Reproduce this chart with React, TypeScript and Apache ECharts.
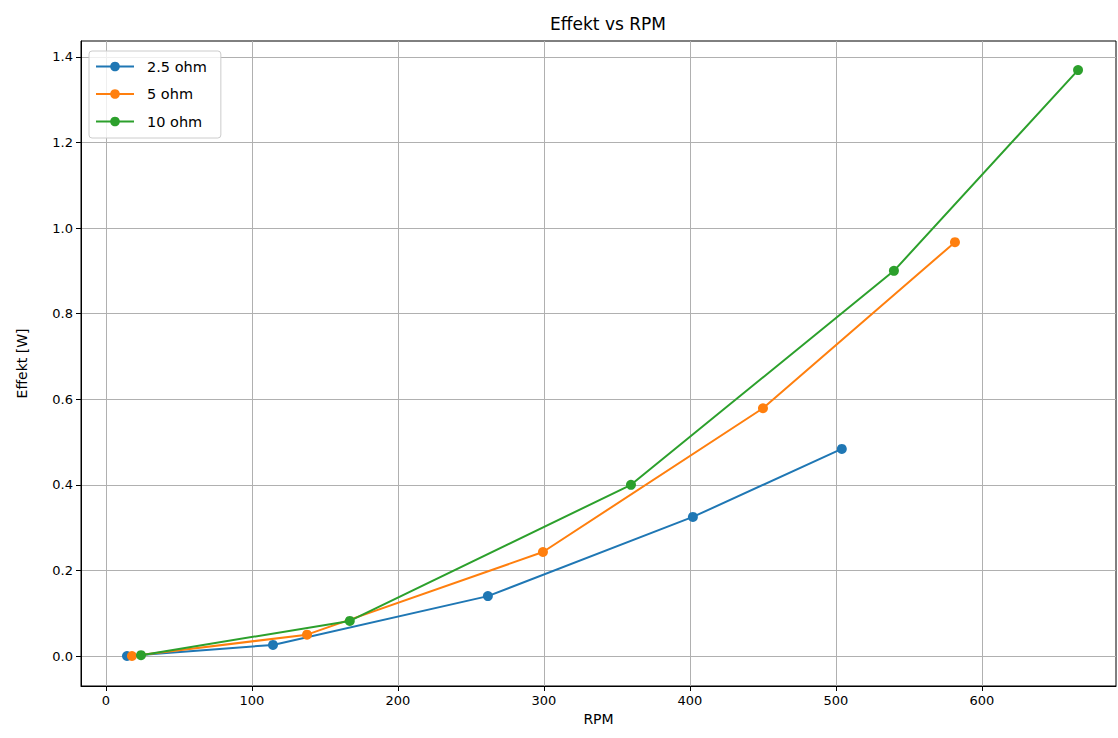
import React, { useEffect, useRef } from "react";
import * as echarts from "echarts";

const seriesNames = ["2.5 ohm", "5 ohm", "10 ohm"];
const colors = ["#1f77b4", "#ff7f0e", "#2ca02c"];
const rpm25 = [14.4, 114.4, 261.6, 402, 504];
const eff25 = [0.0, 0.026, 0.14, 0.325, 0.484];
const rpm5 = [17.8, 137.7, 299.3, 450, 581.5];
const eff5 = [0.0, 0.05, 0.243, 0.579, 0.967];
const rpm10 = [24, 167, 359.6, 539.7, 665.8];
const eff10 = [0.002, 0.082, 0.4, 0.9, 1.369];
const xTicks = [0, 100, 200, 300, 400, 500, 600];
const yTicks = [0, 0.2, 0.4, 0.6, 0.8, 1.0, 1.2, 1.4];

const FONT = "DejaVu Sans";

export default function App() {
  const ref = useRef<HTMLDivElement>(null);
  useEffect(() => {
    document.body.style.margin = "0";
    const chart = echarts.init(ref.current!, null, { renderer: "svg" });
    const xs = [rpm25, rpm5, rpm10];
    const ys = [eff25, eff5, eff10];
    chart.setOption({
      animation: false,
      backgroundColor: "#ffffff",
      title: {
        text: "Effekt vs RPM",
        left: 603,
        top: 10,
        textAlign: "center",
        textStyle: { fontFamily: FONT, fontSize: 17, fontWeight: "normal", color: "#000" },
      },
      legend: {
        orient: "vertical",
        left: 89,
        top: 51,
        itemWidth: 38,
        itemHeight: 12,
        itemGap: 12.5,
        padding: [8, 14, 9, 6],
        backgroundColor: "rgba(255,255,255,0.8)",
        borderColor: "#cccccc",
        borderWidth: 1,
        borderRadius: 3,
        textStyle: { fontFamily: FONT, fontSize: 14.5, color: "#000", padding: [0, 0, 0, 8] },
        data: seriesNames,
      },
      grid: {
        left: 81,
        right: 2,
        top: 41,
        bottom: 52,
        show: true,
        borderColor: "#000",
        borderWidth: 1,
        backgroundColor: "transparent",
      },
      xAxis: {
        type: "value",
        min: -17.1,
        max: 691.8,
        name: "RPM",
        nameLocation: "middle",
        nameGap: 26,
        nameTextStyle: { fontFamily: FONT, fontSize: 14, color: "#000" },
        axisLine: { show: true, onZero: false, lineStyle: { color: "#000", width: 1 } },
        axisTick: { show: true, length: 5, customValues: xTicks, lineStyle: { color: "#000" } },
        axisLabel: { customValues: xTicks, fontFamily: FONT, fontSize: 13, color: "#000", margin: 8 },
        splitLine: { show: true, lineStyle: { color: "#b0b0b0", width: 1 } },
      },
      yAxis: {
        type: "value",
        min: -0.07,
        max: 1.437,
        name: "Effekt [W]",
        nameLocation: "middle",
        nameGap: 52,
        nameTextStyle: { fontFamily: FONT, fontSize: 14, color: "#000" },
        axisLine: { show: true, onZero: false, lineStyle: { color: "#000", width: 1 } },
        axisTick: { show: true, length: 5, customValues: yTicks, lineStyle: { color: "#000" } },
        axisLabel: {
          customValues: yTicks,
          fontFamily: FONT,
          fontSize: 13,
          color: "#000",
          margin: 8,
          formatter: (v: number) => v.toFixed(1),
        },
        splitLine: { show: true, lineStyle: { color: "#b0b0b0", width: 1 } },
      },
      series: seriesNames.map((name, i) => ({
        name,
        type: "line",
        data: xs[i].map((x, j) => [x, ys[i][j]]),
        color: colors[i],
        symbol: "circle",
        symbolSize: 10,
        showSymbol: true,
        lineStyle: { width: 2, color: colors[i] },
        itemStyle: { color: colors[i] },
        z: 3 + i,
      })),
    });
    return () => chart.dispose();
  }, []);
  return <div ref={ref} style={{ width: 1118, height: 738 }} />;
}
